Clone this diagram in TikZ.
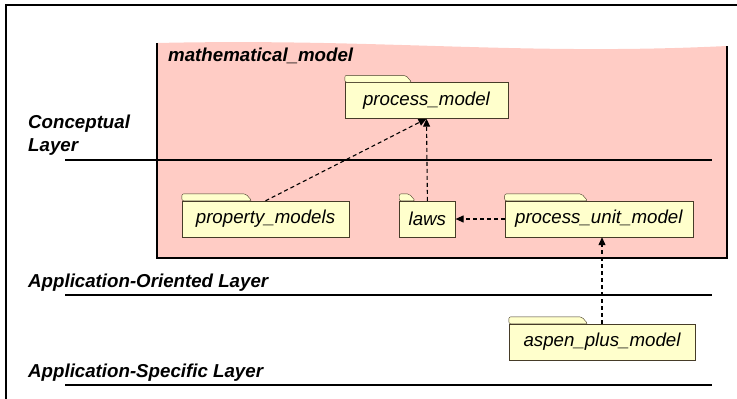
\documentclass[tikz,border=0pt]{standalone}
\usepackage{fontspec}
\setmainfont{Liberation Sans}
\usetikzlibrary{
		positioning,
		arrows.meta
	}
\definecolor{modelpink}{RGB}{255,204,197}
\definecolor{pkgyellow}{RGB}{255,255,204}
\definecolor{pkgline}{RGB}{70,60,40}
\tikzset{
		>={Triangle[length=8pt,width=7pt]}
	}

\begin{document}
\begin{tikzpicture}[-,auto,x=1pt,y=-1pt,node distance=10pt]
	\tikzstyle{layer}=[anchor=base west, inner sep=0pt, font=\fontsize{18.7}{23}\selectfont\bfseries\itshape]
	\tikzstyle{pkg}=[draw=pkgline, fill=pkgyellow, rectangle, minimum height=36pt, inner sep=0pt, font=\fontsize{18.7}{23}\selectfont\itshape]
	\tikzstyle{tab}=[draw=pkgline, fill=pkgyellow, rounded corners=2pt]
	\tikzstyle{dep}=[->, dash pattern=on 4pt off 3pt, line width=1.1pt]
	\tikzstyle{rule}=[line width=1.1pt]
	\useasboundingbox (0,0) rectangle (737,399);
	% Frame
	\draw [line width=1.5pt] (6,399) -- (6,5) -- (737,5);
	% Model area
	\fill [modelpink] (157,43) .. controls (380,38) and (520,56) .. (727,46) -- (727,258) -- (157,258) -- cycle;
	\draw [rule] (727,46) -- (727,258) -- (157,258) -- (157,43);
	\node[layer] (mm) at (168,61) {mathematical\_model};
	% Layers
	\node[layer] (conc)  at (28,128) {Conceptual};
	\node[layer] (concl) at (28,151) {Layer};
	\node[layer] (ao)    at (28,287) {Application-Oriented Layer};
	\node[layer] (as)    at (28,377) {Application-Specific Layer};
	\coordinate (c0) at (65,160);  \coordinate (c1) at (712,160);
	\coordinate (o0) at (65,295);  \coordinate (o1) at (712,295);
	\coordinate (s0) at (65,385);  \coordinate (s1) at (712,385);
	\draw [rule] (c0) -- (c1) (o0) -- (o1) (s0) -- (s1);
	% Packages
	\node[pkg, minimum width=163pt] (pm)   at (426.5,100.5) {process\_model};
	\node[pkg, minimum width=167pt] (prop) at (265.5,219)   {property\_models};
	\node[pkg, minimum width=56pt]  (laws) [right = 50pt of prop] {laws};
	\node[pkg, minimum width=188pt] (pum)  [right = 49pt of laws] {process\_unit\_model};
	\node[pkg, minimum width=186pt] (apm)  at (602,342)     {aspen\_plus\_model};
	\foreach \n/\w in {pm/67, prop/70, laws/16, pum/83, apm/79}
		\draw [tab] (\n.north west) -- ++(0,-7) -- ++({\w-6},0) -- ++(6,7) -- cycle;
	% Dependencies
	\draw [dep] (prop.north) -- (pm.south);
	\draw [dep] (laws.north) -- (pm.south);
	\draw [dep] (pum.west) -- (laws.east);
	\draw [dep] (apm.north) -- (apm.north |- pum.south);
\end{tikzpicture}
\end{document}
